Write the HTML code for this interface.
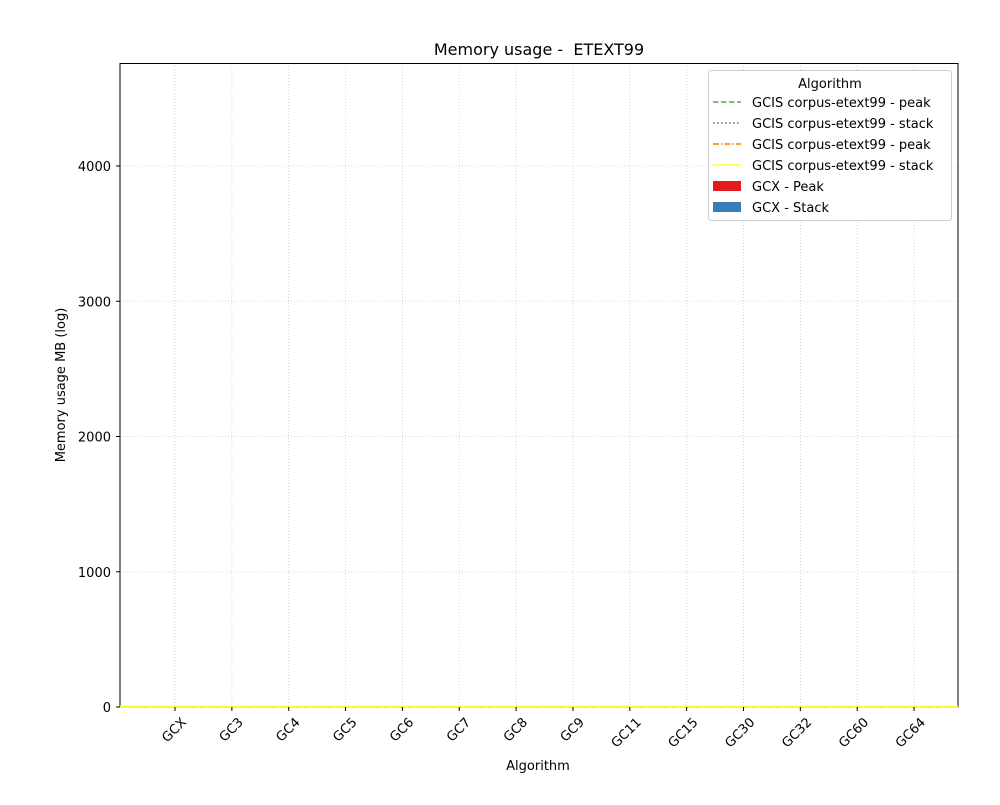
<!DOCTYPE html>
<html><head><meta charset="utf-8"><style>
body{margin:0;background:#fff;font-family:"Liberation Sans","DejaVu Sans",sans-serif}
svg text{font-family:"DejaVu Sans","Liberation Sans",sans-serif}
</style></head><body>
<svg id="chart" width="1000" height="800" xmlns="http://www.w3.org/2000/svg">
<rect width="1000" height="800" fill="#fff"/>
<text x="539" y="55" text-anchor="middle" font-size="16">Memory usage -&#160; ETEXT99</text>
<g id="grid"></g>
<rect x="120" y="63.5" width="838" height="643.5" fill="none" stroke="#000" stroke-width="1"/>
<g id="series"></g>
<g id="axes"></g>
<text x="538" y="770" text-anchor="middle" font-size="13">Algorithm</text>
<text transform="translate(65,385) rotate(-90)" text-anchor="middle" font-size="13">Memory usage MB (log)</text>
<g>
<rect x="708.5" y="70.5" width="243" height="150" rx="3" fill="#fff" stroke="#ccc"/>
<text x="830" y="88" text-anchor="middle" font-size="13">Algorithm</text>
<g><line x1="713" y1="102" x2="741" y2="102" stroke="#4daf4a" stroke-width="1.5" stroke-dasharray="5.5,2.5"/><text x="752" y="107" font-size="13">GCIS corpus-etext99 - peak</text></g>
<g><line x1="713" y1="123" x2="741" y2="123" stroke="#984ea3" stroke-width="1.5" stroke-dasharray="1.5,2.5"/><text x="752" y="128" font-size="13">GCIS corpus-etext99 - stack</text></g>
<g><line x1="713" y1="144" x2="741" y2="144" stroke="#ff7f00" stroke-width="1.5" stroke-dasharray="6,2,1.5,2"/><text x="752" y="149" font-size="13">GCIS corpus-etext99 - peak</text></g>
<g><line x1="713" y1="165" x2="741" y2="165" stroke="#ffff33" stroke-width="1.5"/><text x="752" y="170" font-size="13">GCIS corpus-etext99 - stack</text></g>
<g><rect x="713" y="181" width="28" height="10" fill="#e41a1c"/><text x="752" y="191" font-size="13">GCX - Peak</text></g>
<g><rect x="713" y="202" width="28" height="10" fill="#377eb8"/><text x="752" y="212" font-size="13">GCX - Stack</text></g>
</g>
</svg>
<script>
const categories=["GCX","GC3","GC4","GC5","GC6","GC7","GC8","GC9","GC11","GC15","GC30","GC32","GC60","GC64"];
const yTicks=[0,1000,2000,3000,4000];
const gcisPeakA=[1,1,1,1,1,1,1,1,1,1,1,1,1,1];
const gcisStackA=[0.5,0.5,0.5,0.5,0.5,0.5,0.5,0.5,0.5,0.5,0.5,0.5,0.5,0.5];
const gcisPeakB=[1,1,1,1,1,1,1,1,1,1,1,1,1,1];
const gcisStackB=[3,3,3,3,3,3,3,3,3,3,3,3,3,3];
const NS="http://www.w3.org/2000/svg";
function x(i){return 175+i*56.85;}
function y(v){return 707-v*0.13525;}
const grid=document.getElementById('grid'),axes=document.getElementById('axes'),ser=document.getElementById('series');
function mk(tag,attrs,parent){const e=document.createElementNS(NS,tag);for(const k in attrs)e.setAttribute(k,attrs[k]);parent.appendChild(e);return e;}
categories.forEach((c,i)=>{
  const g=mk('line',{x1:x(i),x2:x(i),y1:63,y2:707,stroke:'#ccc','stroke-width':0.8,'stroke-dasharray':'1,2'},grid);
  
  
  const t=mk('line',{x1:x(i),x2:x(i),y1:707,y2:711,stroke:'#000'},axes);
  
  
  const l=mk('text',{'font-size':13,'text-anchor':'end',transform:`translate(${x(i)+12},${723}) rotate(-45)`},axes);
  l.textContent=c;
  
  
});
yTicks.forEach(v=>{
  const g=mk('line',{x1:120,x2:958,y1:y(v),y2:y(v),stroke:'#ccc','stroke-width':0.8,'stroke-dasharray':'1,2'},grid);
  
  
  const t=mk('line',{x1:116,x2:120,y1:y(v),y2:y(v),stroke:'#000'},axes);
  
  
  const l=mk('text',{x:111,y:y(v)+5,'font-size':13,'text-anchor':'end'},axes);
  l.textContent=v;
  
  
});
function line(data,color,dash,name,w){
  const pts=data.map((v,i)=>x(i)+','+y(v));
  pts.unshift('120,'+y(data[0]));pts.push('958,'+y(data[data.length-1]));
  const p=mk('polyline',{points:pts.join(' '),fill:'none',stroke:color,'stroke-width':w,'stroke-dasharray':dash},ser);
  
  
}
line(gcisPeakA,'#4daf4a','5.5,2.5','gcis-peak-line-green',1.5);
line(gcisStackA,'#984ea3','1.5,2.5','gcis-stack-line-purple',1.5);
line(gcisPeakB,'#ff7f00','6,2,1.5,2','gcis-peak-line-orange',1.5);
line(gcisStackB,'#ffff33','none','gcis-stack-line-yellow',2);
</script>
</body></html>
